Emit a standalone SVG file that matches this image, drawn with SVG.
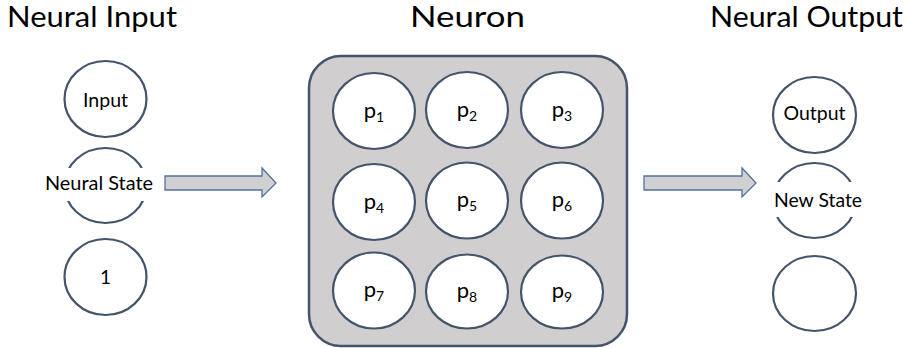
<svg xmlns="http://www.w3.org/2000/svg" width="907" height="348" viewBox="0 0 907 348">
<style>
  .title{font-family:Lato,"Open Sans","Liberation Sans",sans-serif;font-size:28px;fill:#000}
  .lbl{font-family:Lato,"Open Sans","Liberation Sans",sans-serif;font-size:19px;fill:#000;text-anchor:middle}
  .p{font-family:Lato,"Open Sans","Liberation Sans",sans-serif;font-size:22px;fill:#000;text-anchor:middle}
  .node{fill:#fff;stroke:#44546a;stroke-width:2.2}
  .arrow{fill:#d0cfd1;stroke:#5470a0;stroke-width:1.3}
</style>
<rect width="907" height="348" fill="#fff"/>
<text class="title" x="7" y="27" textLength="170" lengthAdjust="spacingAndGlyphs">Neural Input</text>
<text class="title" x="410" y="27" textLength="115" lengthAdjust="spacingAndGlyphs">Neuron</text>
<text class="title" x="710" y="27" textLength="193" lengthAdjust="spacingAndGlyphs">Neural Output</text>

<g id="input">
  <ellipse class="node" cx="105.5" cy="99" rx="41" ry="38"/>
  <text class="lbl" x="105.5" y="107" textLength="45" lengthAdjust="spacingAndGlyphs">Input</text>
</g>
<g id="neural-state">
  <ellipse class="node" cx="105.5" cy="185.5" rx="41" ry="37.5"/>
  <rect x="58" y="168" width="96" height="33" fill="#fff"/>
  <text class="lbl" x="99" y="190" textLength="108" lengthAdjust="spacingAndGlyphs">Neural State</text>
</g>
<g id="one">
  <ellipse class="node" cx="105.5" cy="277" rx="41" ry="38"/>
  <text class="lbl" x="105.5" y="284">1</text>
</g>

<g id="neuron">
  <rect x="309" y="56" width="318" height="290" rx="32" ry="32" fill="#d0cecf" stroke="#44546a" stroke-width="2.5"/>
  <g id="p1"><ellipse class="node" cx="374" cy="111" rx="41" ry="38"/><text class="p" x="374" y="118">p<tspan font-size="14" dy="4">1</tspan></text></g>
  <g id="p2"><ellipse class="node" cx="467" cy="110" rx="41" ry="38"/><text class="p" x="467" y="117">p<tspan font-size="14" dy="4">2</tspan></text></g>
  <g id="p3"><ellipse class="node" cx="562" cy="110" rx="41" ry="38"/><text class="p" x="562" y="117">p<tspan font-size="14" dy="4">3</tspan></text></g>
  <g id="p4"><ellipse class="node" cx="374" cy="202" rx="41" ry="38"/><text class="p" x="374" y="209">p<tspan font-size="14" dy="4">4</tspan></text></g>
  <g id="p5"><ellipse class="node" cx="467" cy="200.5" rx="41" ry="38"/><text class="p" x="467" y="207">p<tspan font-size="14" dy="4">5</tspan></text></g>
  <g id="p6"><ellipse class="node" cx="562" cy="200.5" rx="41" ry="38"/><text class="p" x="562" y="207">p<tspan font-size="14" dy="4">6</tspan></text></g>
  <g id="p7"><ellipse class="node" cx="374" cy="290.5" rx="41" ry="38"/><text class="p" x="374" y="297">p<tspan font-size="14" dy="4">7</tspan></text></g>
  <g id="p8"><ellipse class="node" cx="467" cy="291.5" rx="41" ry="37"/><text class="p" x="467" y="298">p<tspan font-size="14" dy="4">8</tspan></text></g>
  <g id="p9"><ellipse class="node" cx="562" cy="292" rx="41" ry="36.5"/><text class="p" x="562" y="298">p<tspan font-size="14" dy="4">9</tspan></text></g>
</g>

<g id="output">
  <ellipse class="node" cx="814.5" cy="115" rx="41.5" ry="38"/>
  <text class="lbl" x="814.5" y="120" textLength="62" lengthAdjust="spacingAndGlyphs">Output</text>
</g>
<g id="new-state">
  <ellipse class="node" cx="814.5" cy="200.5" rx="41.5" ry="37.5"/>
  <rect x="768" y="182" width="96" height="35" fill="#fff"/>
  <text class="lbl" x="818" y="207" textLength="88" lengthAdjust="spacingAndGlyphs">New State</text>
</g>
<g id="empty">
  <ellipse class="node" cx="814.5" cy="293.5" rx="41.5" ry="37.5"/>
</g>

<g id="connectors">
  <polygon class="arrow" points="165,176 262,176 262,168 276,183 262,197 262,190 165,190"/>
  <polygon class="arrow" points="644,176 742,176 742,168 756,183 742,197 742,190 644,190"/>
</g>
</svg>
